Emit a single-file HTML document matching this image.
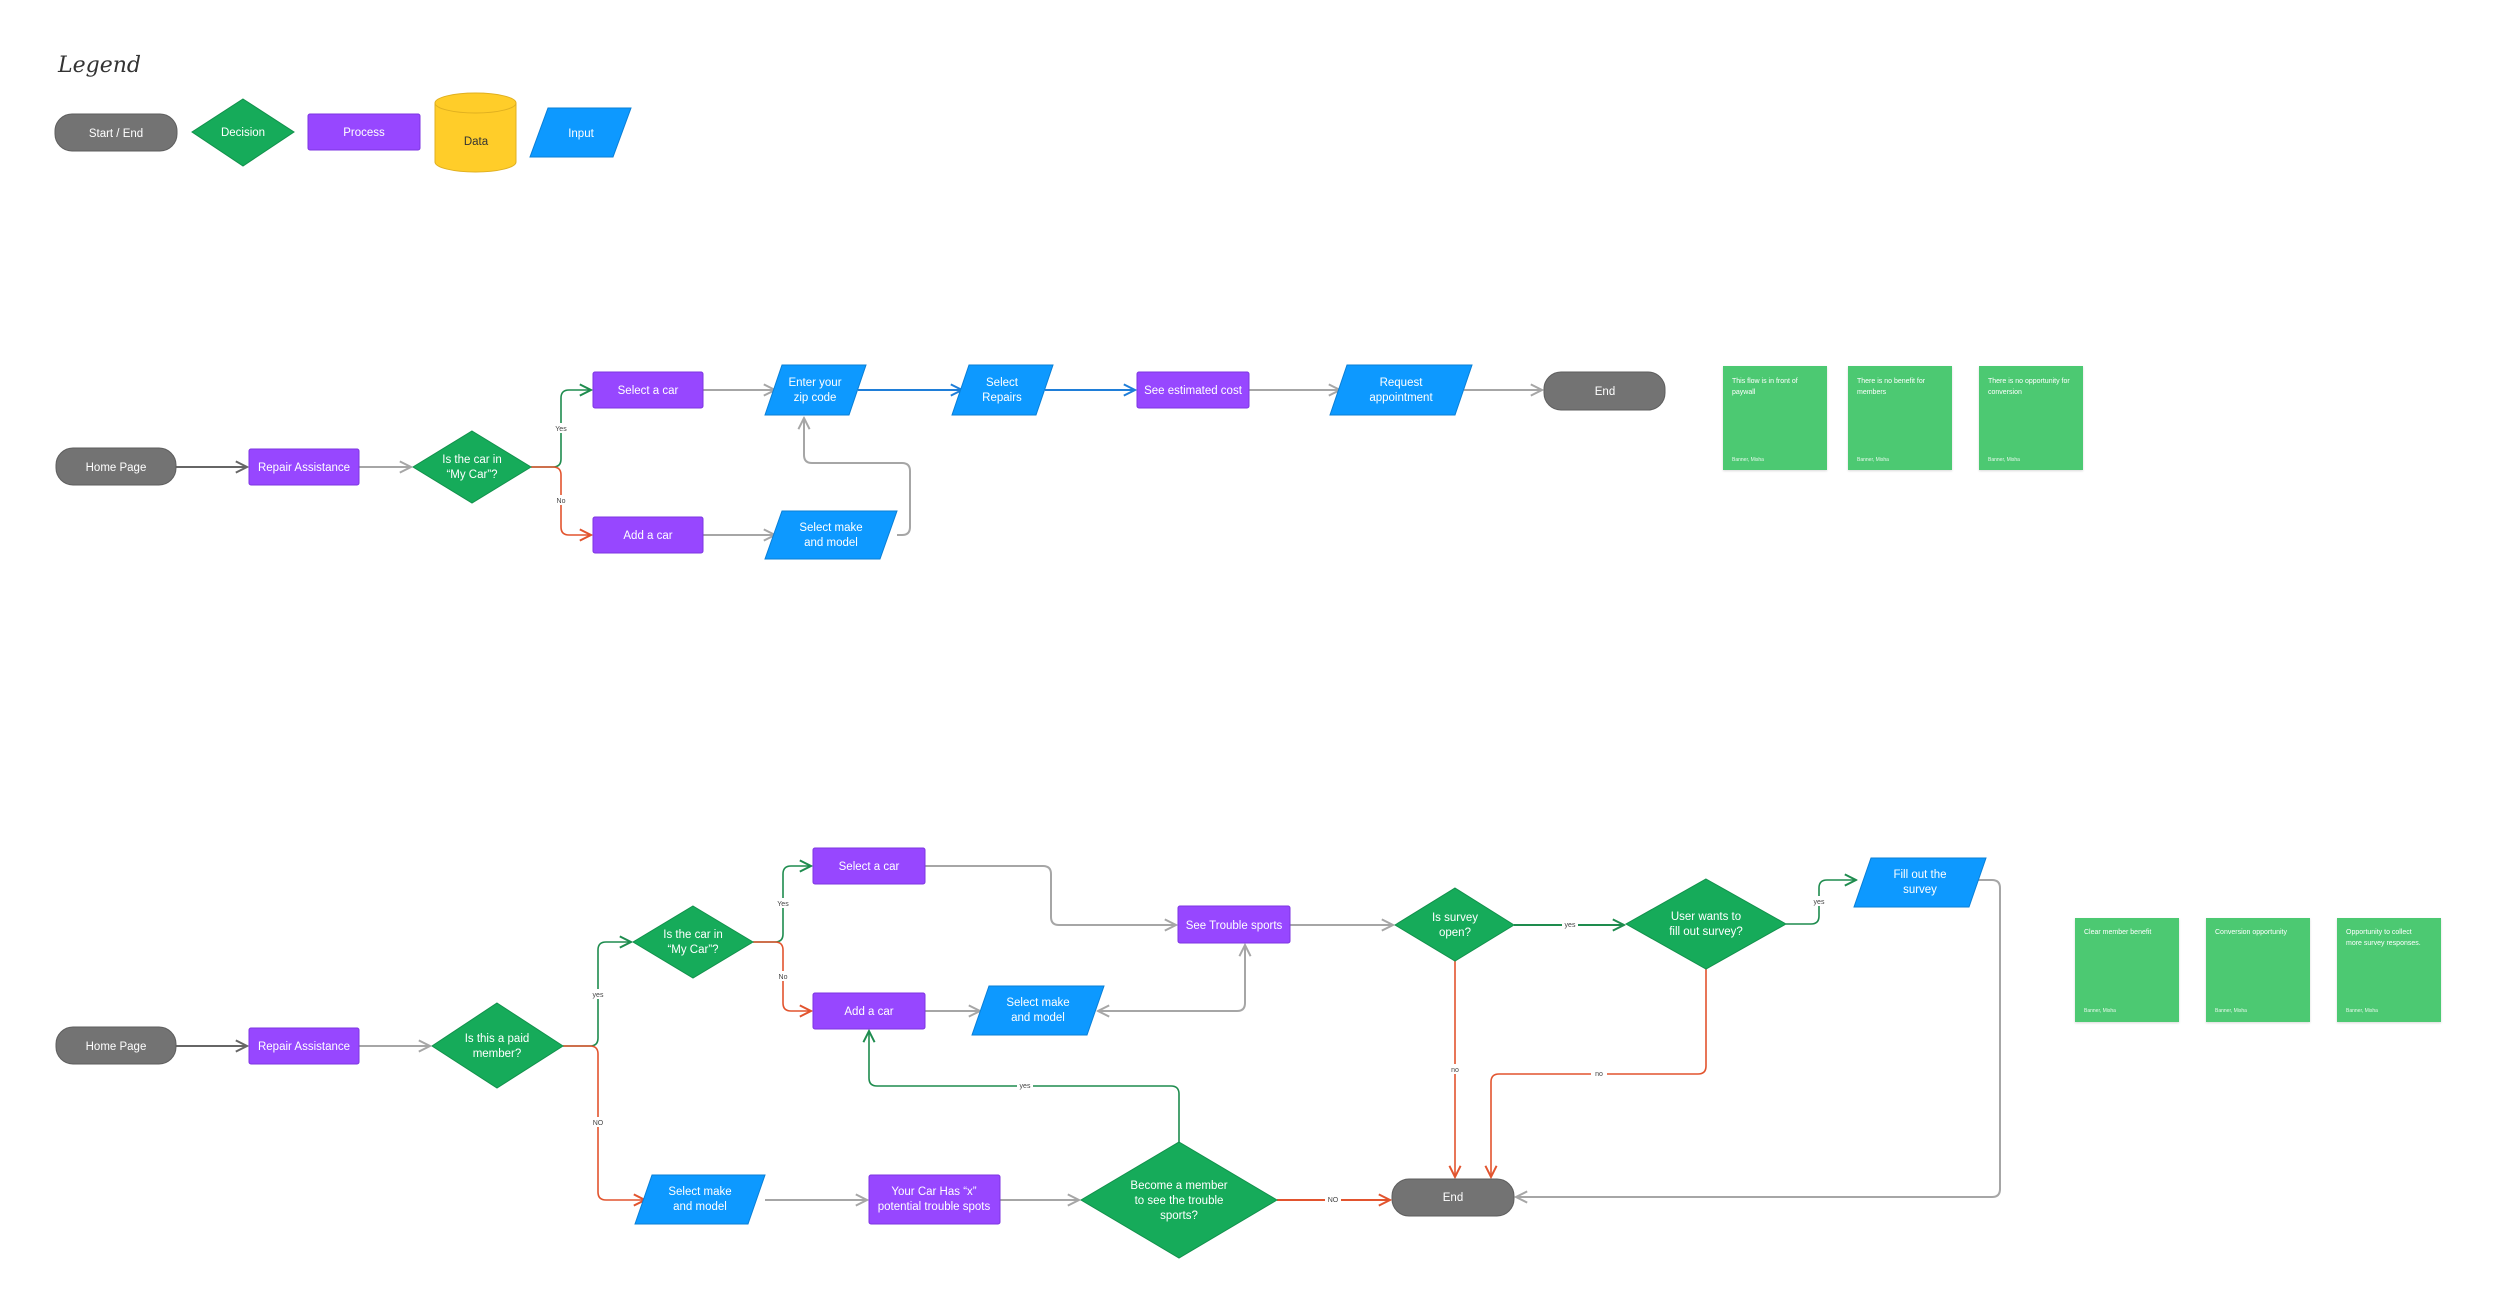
<!DOCTYPE html>
<html><head><meta charset="utf-8"><style>
html,body{margin:0;padding:0;background:#fff;}
svg{display:block;}
text{font-family:"Liberation Sans",sans-serif;}
.n{fill:#fff;font-size:11.5px;text-anchor:middle;}
.l{fill:#444;font-size:7px;text-anchor:middle;}
.s{fill:#fff;font-size:7px;}
.a{fill:#e8f8ec;font-size:5px;}
</style></head><body>
<svg width="2500" height="1314" viewBox="0 0 2500 1314" xmlns="http://www.w3.org/2000/svg">
<defs>
<marker id="mg" viewBox="0 0 10 10" refX="9" refY="5" markerWidth="14" markerHeight="14" markerUnits="userSpaceOnUse" orient="auto-start-reverse"><path d="M1,1 L9,5 L1,9" fill="none" stroke="#a6a6a6" stroke-width="1.4"/></marker>
<marker id="md" viewBox="0 0 10 10" refX="9" refY="5" markerWidth="14" markerHeight="14" markerUnits="userSpaceOnUse" orient="auto"><path d="M1,1 L9,5 L1,9" fill="none" stroke="#666" stroke-width="1.4"/></marker>
<marker id="mG" viewBox="0 0 10 10" refX="9" refY="5" markerWidth="14" markerHeight="14" markerUnits="userSpaceOnUse" orient="auto"><path d="M1,1 L9,5 L1,9" fill="none" stroke="#1e8c4e" stroke-width="1.4"/></marker>
<marker id="mR" viewBox="0 0 10 10" refX="9" refY="5" markerWidth="14" markerHeight="14" markerUnits="userSpaceOnUse" orient="auto"><path d="M1,1 L9,5 L1,9" fill="none" stroke="#e2542e" stroke-width="1.4"/></marker>
<marker id="mB" viewBox="0 0 10 10" refX="9" refY="5" markerWidth="14" markerHeight="14" markerUnits="userSpaceOnUse" orient="auto"><path d="M1,1 L9,5 L1,9" fill="none" stroke="#1f7ed8" stroke-width="1.4"/></marker>
</defs>

<!-- Legend -->
<text x="58" y="72" font-size="22" font-style="italic" fill="#333" style="font-family:'DejaVu Serif',cursive">Legend</text>
<rect x="55" y="114" width="122" height="37" rx="17" fill="#737373" stroke="#5e5e5e"/>
<text class="n" x="116" y="137">Start / End</text>
<polygon points="243,99 294,132 243,166 192,132" fill="#16ab5a" stroke="#12914c"/>
<text class="n" x="243" y="136">Decision</text>
<rect x="308" y="114" width="112" height="36" rx="2" fill="#9747ff" stroke="#7d35e0"/>
<text class="n" x="364" y="136">Process</text>
<path d="M435,103 V162 A40.5,10 0 0 0 516,162 V103" fill="#ffcd29" stroke="#e0b020"/>
<ellipse cx="475.5" cy="103" rx="40.5" ry="10" fill="#ffcd29" stroke="#e0b020"/>
<text x="476" y="145" font-size="11.5" text-anchor="middle" fill="#333">Data</text>
<polygon points="548,108 631,108 613,157 530,157" fill="#0d99ff" stroke="#0a7fd6"/>
<text class="n" x="581" y="137">Input</text>

<!-- ===== Top flow connectors ===== -->
<path d="M176,467 H247" stroke="#666" stroke-width="2" fill="none" marker-end="url(#md)"/>
<path d="M359,467 H411" stroke="#a6a6a6" stroke-width="2" fill="none" marker-end="url(#mg)"/>
<path d="M531,467 H553 Q561,467 561,459 V398 Q561,390 569,390 H591" stroke="#1e8c4e" stroke-width="1.6" fill="none" marker-end="url(#mG)"/>
<path d="M531,467 H553 Q561,467 561,475 V527 Q561,535 569,535 H591" stroke="#e2542e" stroke-width="1.6" fill="none" marker-end="url(#mR)"/>
<rect x="553" y="423" width="16" height="10" fill="#fff"/><text class="l" x="561" y="431">Yes</text>
<rect x="553" y="495" width="16" height="10" fill="#fff"/><text class="l" x="561" y="503">No</text>
<path d="M703,390 H775" stroke="#a6a6a6" stroke-width="2" fill="none" marker-end="url(#mg)"/>
<path d="M703,535 H775" stroke="#a6a6a6" stroke-width="2" fill="none" marker-end="url(#mg)"/>
<path d="M897,535 H902 Q910,535 910,527 V471 Q910,463 902,463 H812 Q804,463 804,455 V418" stroke="#a6a6a6" stroke-width="2" fill="none" marker-end="url(#mg)"/>
<path d="M858,390 H962" stroke="#1f7ed8" stroke-width="2" fill="none" marker-end="url(#mB)"/>
<path d="M1045,390 H1135" stroke="#1f7ed8" stroke-width="2" fill="none" marker-end="url(#mB)"/>
<path d="M1249,390 H1340" stroke="#a6a6a6" stroke-width="2" fill="none" marker-end="url(#mg)"/>
<path d="M1464,390 H1542" stroke="#a6a6a6" stroke-width="2" fill="none" marker-end="url(#mg)"/>

<!-- Top flow nodes -->
<rect x="56" y="448" width="120" height="37" rx="17" fill="#737373" stroke="#5e5e5e"/>
<text class="n" x="116" y="471">Home Page</text>
<rect x="249" y="449" width="110" height="36" rx="2" fill="#9747ff" stroke="#7d35e0"/>
<text class="n" x="304" y="471">Repair Assistance</text>
<polygon points="472,431 531,467 472,503 413,467" fill="#16ab5a" stroke="#12914c"/>
<text class="n" x="472" y="463">Is the car in</text><text class="n" x="472" y="478">“My Car”?</text>
<rect x="593" y="372" width="110" height="36" rx="2" fill="#9747ff" stroke="#7d35e0"/>
<text class="n" x="648" y="394">Select a car</text>
<rect x="593" y="517" width="110" height="36" rx="2" fill="#9747ff" stroke="#7d35e0"/>
<text class="n" x="648" y="539">Add a car</text>
<polygon points="782,365 866,365 849,415 765,415" fill="#0d99ff" stroke="#0a7fd6"/>
<text class="n" x="815" y="386">Enter your</text><text class="n" x="815" y="401">zip code</text>
<polygon points="782,511 897,511 880,559 765,559" fill="#0d99ff" stroke="#0a7fd6"/>
<text class="n" x="831" y="531">Select make</text><text class="n" x="831" y="546">and model</text>
<polygon points="969,365 1053,365 1036,415 952,415" fill="#0d99ff" stroke="#0a7fd6"/>
<text class="n" x="1002" y="386">Select</text><text class="n" x="1002" y="401">Repairs</text>
<rect x="1137" y="372" width="112" height="36" rx="2" fill="#9747ff" stroke="#7d35e0"/>
<text class="n" x="1193" y="394">See estimated cost</text>
<polygon points="1347,365 1472,365 1455,415 1330,415" fill="#0d99ff" stroke="#0a7fd6"/>
<text class="n" x="1401" y="386">Request</text><text class="n" x="1401" y="401">appointment</text>
<rect x="1544" y="372" width="121" height="38" rx="17" fill="#737373" stroke="#5e5e5e"/>
<text class="n" x="1605" y="395">End</text>

<!-- Top stickies -->
<g>
<rect x="1723" y="366" width="104" height="104" fill="#4cc972" style="filter:drop-shadow(0 1px 1px rgba(0,0,0,.15))"/>
<text class="s" x="1732" y="383">This flow is in front of</text><text class="s" x="1732" y="394">paywall</text>
<text class="a" x="1732" y="461">Banner, Misha</text>
<rect x="1848" y="366" width="104" height="104" fill="#4cc972" style="filter:drop-shadow(0 1px 1px rgba(0,0,0,.15))"/>
<text class="s" x="1857" y="383">There is no benefit for</text><text class="s" x="1857" y="394">members</text>
<text class="a" x="1857" y="461">Banner, Misha</text>
<rect x="1979" y="366" width="104" height="104" fill="#4cc972" style="filter:drop-shadow(0 1px 1px rgba(0,0,0,.15))"/>
<text class="s" x="1988" y="383">There is no opportunity for</text><text class="s" x="1988" y="394">conversion</text>
<text class="a" x="1988" y="461">Banner, Misha</text>
</g>

<!-- ===== Bottom flow connectors ===== -->
<path d="M176,1046 H247" stroke="#666" stroke-width="2" fill="none" marker-end="url(#md)"/>
<path d="M359,1046 H430" stroke="#a6a6a6" stroke-width="2" fill="none" marker-end="url(#mg)"/>
<path d="M563,1046 H590 Q598,1046 598,1038 V950 Q598,942 606,942 H631" stroke="#1e8c4e" stroke-width="1.6" fill="none" marker-end="url(#mG)"/>
<path d="M563,1046 H590 Q598,1046 598,1054 V1192 Q598,1200 606,1200 H645" stroke="#e2542e" stroke-width="1.6" fill="none" marker-end="url(#mR)"/>
<rect x="590" y="989" width="16" height="10" fill="#fff"/><text class="l" x="598" y="997">yes</text>
<rect x="590" y="1117" width="16" height="10" fill="#fff"/><text class="l" x="598" y="1125">NO</text>
<path d="M753,942 H775 Q783,942 783,934 V874 Q783,866 791,866 H811" stroke="#1e8c4e" stroke-width="1.6" fill="none" marker-end="url(#mG)"/>
<path d="M753,942 H775 Q783,942 783,950 V1003 Q783,1011 791,1011 H811" stroke="#e2542e" stroke-width="1.6" fill="none" marker-end="url(#mR)"/>
<rect x="775" y="898" width="16" height="10" fill="#fff"/><text class="l" x="783" y="906">Yes</text>
<rect x="775" y="971" width="16" height="10" fill="#fff"/><text class="l" x="783" y="979">No</text>
<path d="M925,866 H1043 Q1051,866 1051,874 V917 Q1051,925 1059,925 H1176" stroke="#a6a6a6" stroke-width="2" fill="none" marker-end="url(#mg)"/>
<path d="M925,1011 H980" stroke="#a6a6a6" stroke-width="2" fill="none" marker-end="url(#mg)"/>
<path d="M1098,1011 H1237 Q1245,1011 1245,1003 V945" stroke="#a6a6a6" stroke-width="2" fill="none" marker-start="url(#mg)" marker-end="url(#mg)"/>
<path d="M765,1200 H867" stroke="#a6a6a6" stroke-width="2" fill="none" marker-end="url(#mg)"/>
<path d="M1000,1200 H1079" stroke="#a6a6a6" stroke-width="2" fill="none" marker-end="url(#mg)"/>
<path d="M1277,1200 H1390" stroke="#e2542e" stroke-width="2" fill="none" marker-end="url(#mR)"/>
<rect x="1325" y="1194" width="16" height="10" fill="#fff"/><text class="l" x="1333" y="1202">NO</text>
<path d="M1179,1142 V1094 Q1179,1086 1171,1086 H877 Q869,1086 869,1078 V1031" stroke="#1e8c4e" stroke-width="1.6" fill="none" marker-end="url(#mG)"/>
<rect x="1017" y="1080" width="16" height="10" fill="#fff"/><text class="l" x="1025" y="1088">yes</text>
<path d="M1290,925 H1393" stroke="#a6a6a6" stroke-width="2" fill="none" marker-end="url(#mg)"/>
<path d="M1514,925 H1624" stroke="#1e8c4e" stroke-width="2" fill="none" marker-end="url(#mG)"/>
<rect x="1562" y="919" width="16" height="10" fill="#fff"/><text class="l" x="1570" y="927">yes</text>
<path d="M1786,924 H1811 Q1819,924 1819,916 V888 Q1819,880 1827,880 H1856" stroke="#1e8c4e" stroke-width="1.6" fill="none" marker-end="url(#mG)"/>
<rect x="1811" y="896" width="16" height="10" fill="#fff"/><text class="l" x="1819" y="904">yes</text>
<path d="M1455,960 V1177" stroke="#e2542e" stroke-width="1.6" fill="none" marker-end="url(#mR)"/>
<rect x="1447" y="1064" width="16" height="10" fill="#fff"/><text class="l" x="1455" y="1072">no</text>
<path d="M1706,969 V1066 Q1706,1074 1698,1074 H1499 Q1491,1074 1491,1082 V1177" stroke="#e2542e" stroke-width="1.6" fill="none" marker-end="url(#mR)"/>
<rect x="1591" y="1068" width="16" height="10" fill="#fff"/><text class="l" x="1599" y="1076">no</text>
<path d="M1978,880 H1992 Q2000,880 2000,888 V1189 Q2000,1197 1992,1197 H1516" stroke="#a6a6a6" stroke-width="2" fill="none" marker-end="url(#mg)"/>

<!-- Bottom nodes -->
<rect x="56" y="1027" width="120" height="37" rx="17" fill="#737373" stroke="#5e5e5e"/>
<text class="n" x="116" y="1050">Home Page</text>
<rect x="249" y="1028" width="110" height="36" rx="2" fill="#9747ff" stroke="#7d35e0"/>
<text class="n" x="304" y="1050">Repair Assistance</text>
<polygon points="497,1003 563,1046 497,1088 432,1046" fill="#16ab5a" stroke="#12914c"/>
<text class="n" x="497" y="1042">Is this a paid</text><text class="n" x="497" y="1057">member?</text>
<polygon points="693,906 753,942 693,978 633,942" fill="#16ab5a" stroke="#12914c"/>
<text class="n" x="693" y="938">Is the car in</text><text class="n" x="693" y="953">“My Car”?</text>
<rect x="813" y="848" width="112" height="36" rx="2" fill="#9747ff" stroke="#7d35e0"/>
<text class="n" x="869" y="870">Select a car</text>
<rect x="813" y="993" width="112" height="36" rx="2" fill="#9747ff" stroke="#7d35e0"/>
<text class="n" x="869" y="1015">Add a car</text>
<polygon points="989,986 1104,986 1087,1035 972,1035" fill="#0d99ff" stroke="#0a7fd6"/>
<text class="n" x="1038" y="1006">Select make</text><text class="n" x="1038" y="1021">and model</text>
<rect x="1178" y="906" width="112" height="37" rx="2" fill="#9747ff" stroke="#7d35e0"/>
<text class="n" x="1234" y="929">See Trouble sports</text>
<polygon points="652,1175 765,1175 748,1224 635,1224" fill="#0d99ff" stroke="#0a7fd6"/>
<text class="n" x="700" y="1195">Select make</text><text class="n" x="700" y="1210">and model</text>
<rect x="869" y="1175" width="131" height="49" rx="2" fill="#9747ff" stroke="#7d35e0"/>
<text class="n" x="934" y="1195">Your Car Has “x”</text><text class="n" x="934" y="1210">potential trouble spots</text>
<polygon points="1179,1142 1277,1200 1179,1258 1081,1200" fill="#16ab5a" stroke="#12914c"/>
<text class="n" x="1179" y="1189">Become a member</text><text class="n" x="1179" y="1204">to see the trouble</text><text class="n" x="1179" y="1219">sports?</text>
<polygon points="1455,888 1514,925 1455,961 1395,925" fill="#16ab5a" stroke="#12914c"/>
<text class="n" x="1455" y="921">Is survey</text><text class="n" x="1455" y="936">open?</text>
<polygon points="1706,879 1786,924 1706,969 1626,924" fill="#16ab5a" stroke="#12914c"/>
<text class="n" x="1706" y="920">User wants to</text><text class="n" x="1706" y="935">fill out survey?</text>
<polygon points="1871,858 1986,858 1969,907 1854,907" fill="#0d99ff" stroke="#0a7fd6"/>
<text class="n" x="1920" y="878">Fill out the</text><text class="n" x="1920" y="893">survey</text>
<rect x="1392" y="1179" width="122" height="37" rx="17" fill="#737373" stroke="#5e5e5e"/>
<text class="n" x="1453" y="1201">End</text>

<!-- Bottom stickies -->
<rect x="2075" y="918" width="104" height="104" fill="#4cc972" style="filter:drop-shadow(0 1px 1px rgba(0,0,0,.15))"/>
<text class="s" x="2084" y="934">Clear member benefit</text>
<text class="a" x="2084" y="1012">Banner, Misha</text>
<rect x="2206" y="918" width="104" height="104" fill="#4cc972" style="filter:drop-shadow(0 1px 1px rgba(0,0,0,.15))"/>
<text class="s" x="2215" y="934">Conversion opportunity</text>
<text class="a" x="2215" y="1012">Banner, Misha</text>
<rect x="2337" y="918" width="104" height="104" fill="#4cc972" style="filter:drop-shadow(0 1px 1px rgba(0,0,0,.15))"/>
<text class="s" x="2346" y="934">Opportunity to collect</text><text class="s" x="2346" y="945">more survey responses.</text>
<text class="a" x="2346" y="1012">Banner, Misha</text>
</svg>
</body></html>
